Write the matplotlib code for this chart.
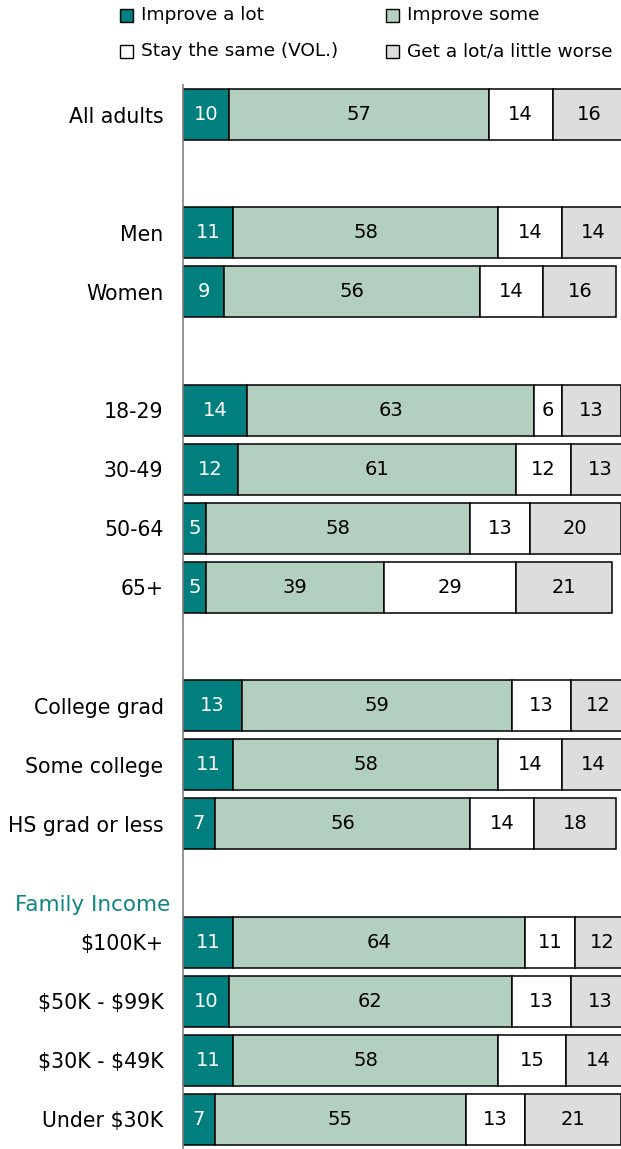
import numpy as np
import matplotlib.pyplot as plt
from matplotlib.patches import Rectangle

# groups, one entry per bar (None marks an empty row used as spacer)
categories = ['All adults', None, 'Men', 'Women', None,
              '18-29', '30-49', '50-64', '65+', None,
              'College grad', 'Some college', 'HS grad or less', None,
              r'\$100K+', r'\$50K - \$99K', r'\$30K - \$49K', r'Under \$30K']

improve_lot = [10, None, 11, 9, None, 14, 12, 5, 5, None, 13, 11, 7, None, 11, 10, 11, 7]
improve_some = [57, None, 58, 56, None, 63, 61, 58, 39, None, 59, 58, 56, None, 64, 62, 58, 55]
stay_same = [14, None, 14, 14, None, 6, 12, 13, 29, None, 13, 14, 14, None, 11, 13, 15, 13]
get_worse = [16, None, 14, 16, None, 13, 13, 20, 21, None, 12, 14, 18, None, 12, 13, 14, 21]

series_names = ['Improve a lot', 'Improve some', 'Stay the same (VOL.)', 'Get a lot/a little worse']
colors = ['#007F7E', '#B3CFBF', '#FFFFFF', '#DDDDDD']
text_colors = ['white', 'black', 'black', 'black']

W, H = 621, 1149
plt.rcParams['font.family'] = ['DejaVu Sans']

fig = plt.figure(figsize=(W / 100, H / 100), dpi=100)
ax = fig.add_axes([183 / W, 0, 1 - 183 / W, 1 - 85 / H])

rows = [i for i, c in enumerate(categories) if c is not None]
data = [improve_lot, improve_some, stay_same, get_worse]

for i in rows:
    left = 0
    for k, vals in enumerate(data):
        v = vals[i]
        ax.barh(i, v, left=left, height=0.86, color=colors[k],
                edgecolor='black', linewidth=1.1)
        ax.text(left + v / 2, i, str(v), ha='center', va='center',
                fontsize=14, color=text_colors[k])
        left += v

ax.set_xlim(0, 96)
ax.set_ylim(17.5, -0.5)
ax.set_yticks(rows)
ax.set_yticklabels([categories[i] for i in rows], fontsize=14.8)
ax.tick_params(axis='y', length=0, pad=14)
ax.set_xticks([])
for s in ['top', 'right', 'bottom']:
    ax.spines[s].set_visible(False)
ax.spines['left'].set_color('#808080')
ax.spines['left'].set_linewidth(1.2)

# section heading
ax.text(-2.8, 13.37, 'Family Income', ha='right', va='center',
        fontsize=15.5, color='#0E8582')

# legend, two columns drawn by hand
leg_pos = [(120, 15), (386, 15), (120, 51), (386, 51)]
for (px, py), name, c in zip(leg_pos, series_names, colors):
    fig.patches.append(Rectangle((px / W, 1 - (py + 7) / H), 13 / W, 13 / H,
                                 transform=fig.transFigure, facecolor=c,
                                 edgecolor='black', linewidth=1.0))
    fig.text((px + 21) / W, 1 - py / H, name, ha='left', va='center', fontsize=13.3)

fig.savefig('out.png', dpi=100)
